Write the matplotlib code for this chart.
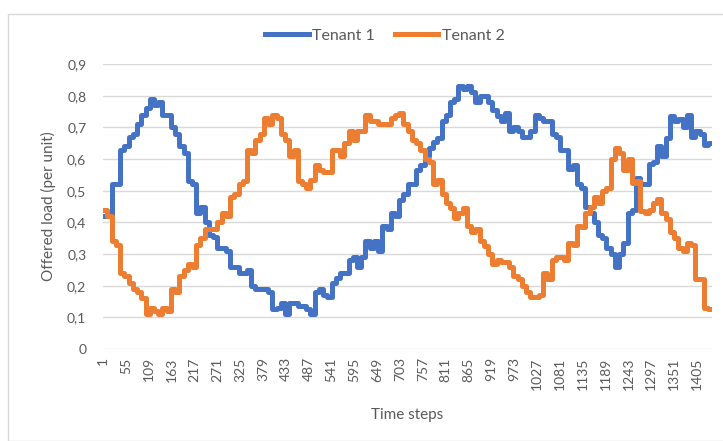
import numpy as np
import matplotlib.pyplot as plt
from matplotlib.patches import Rectangle

# Offered load per 10-step block (144 blocks = 1440 time steps)
tenant1 = [
    0.42, 0.42, 0.52, 0.52, 0.63, 0.64, 0.67, 0.68, 0.71, 0.74,
    0.76, 0.79, 0.77, 0.78, 0.74, 0.74, 0.70, 0.68, 0.64, 0.62,
    0.53, 0.52, 0.43, 0.45, 0.40, 0.36, 0.355, 0.32, 0.32, 0.31,
    0.26, 0.26, 0.24, 0.24, 0.25, 0.20, 0.19, 0.19, 0.19, 0.18,
    0.125, 0.13, 0.145, 0.11, 0.145, 0.145, 0.135, 0.135, 0.125, 0.11,
    0.18, 0.19, 0.17, 0.165, 0.21, 0.225, 0.24, 0.24, 0.28, 0.29,
    0.26, 0.29, 0.34, 0.32, 0.34, 0.31, 0.39, 0.38, 0.43, 0.42,
    0.47, 0.49, 0.52, 0.52, 0.565, 0.58, 0.61, 0.635, 0.655, 0.665,
    0.72, 0.74, 0.78, 0.79, 0.83, 0.82, 0.83, 0.81, 0.78, 0.80,
    0.80, 0.78, 0.755, 0.735, 0.72, 0.745, 0.69, 0.70, 0.69, 0.67,
    0.67, 0.69, 0.74, 0.73, 0.72, 0.72, 0.68, 0.67, 0.63, 0.63,
    0.57, 0.58, 0.52, 0.51, 0.45, 0.43, 0.40, 0.36, 0.35, 0.32,
    0.30, 0.26, 0.30, 0.335, 0.43, 0.44, 0.54, 0.52, 0.52, 0.585,
    0.59, 0.64, 0.61, 0.665, 0.735, 0.72, 0.725, 0.70, 0.74, 0.67,
    0.69, 0.68, 0.645, 0.65,
]
tenant2 = [
    0.44, 0.42, 0.34, 0.33, 0.24, 0.23, 0.21, 0.19, 0.18, 0.16,
    0.11, 0.13, 0.12, 0.11, 0.13, 0.12, 0.19, 0.18, 0.23, 0.25,
    0.27, 0.26, 0.33, 0.35, 0.38, 0.38, 0.38, 0.40, 0.43, 0.42,
    0.48, 0.49, 0.52, 0.53, 0.63, 0.62, 0.66, 0.68, 0.73, 0.71,
    0.74, 0.73, 0.68, 0.66, 0.61, 0.63, 0.53, 0.52, 0.51, 0.535,
    0.58, 0.565, 0.56, 0.56, 0.63, 0.63, 0.61, 0.65, 0.69, 0.66,
    0.69, 0.69, 0.74, 0.72, 0.72, 0.71, 0.71, 0.71, 0.73, 0.74,
    0.745, 0.71, 0.69, 0.66, 0.65, 0.63, 0.60, 0.59, 0.52, 0.535,
    0.49, 0.46, 0.445, 0.415, 0.43, 0.445, 0.39, 0.37, 0.38, 0.34,
    0.325, 0.30, 0.27, 0.28, 0.275, 0.275, 0.26, 0.23, 0.22, 0.20,
    0.18, 0.165, 0.165, 0.17, 0.24, 0.22, 0.28, 0.29, 0.29, 0.28,
    0.335, 0.33, 0.39, 0.385, 0.43, 0.45, 0.48, 0.46, 0.50, 0.51,
    0.60, 0.635, 0.62, 0.565, 0.60, 0.525, 0.53, 0.435, 0.43, 0.44,
    0.46, 0.475, 0.43, 0.41, 0.37, 0.35, 0.32, 0.31, 0.335, 0.33,
    0.22, 0.22, 0.13, 0.125,
]
n_steps = 1440
block = 10
tick_labels = [str(v) for v in range(1, n_steps, 54)]
y_ticks = [0, 0.1, 0.2, 0.3, 0.4, 0.5, 0.6, 0.7, 0.8, 0.9]

plt.rcParams['font.family'] = ['Lato', 'DejaVu Sans']
grey_text = '#595959'

fig = plt.figure(figsize=(7.23, 4.41), dpi=100)
ax = fig.add_axes([103 / 723, 1 - 349 / 441, 609 / 723, (349 - 64) / 441])

# outer chart frame
fig.patches.append(Rectangle((8 / 723, 0), 1.0, 1 - 14 / 441, transform=fig.transFigure,
                             fill=False, edgecolor='#d9d9d9', linewidth=1))

starts = np.arange(len(tenant1)) * block + 1
x = np.append(starts, n_steps + 1)
ax.step(x, np.append(tenant1, tenant1[-1]), where='post', color='#4472C4',
        linewidth=3.6, label='Tenant 1', solid_joinstyle='round')
ax.step(x, np.append(tenant2, tenant2[-1]), where='post', color='#ED7D31',
        linewidth=3.6, label='Tenant 2', solid_joinstyle='round')

ax.set_xlim(0.5, n_steps + 0.5)
ax.set_ylim(0, 0.9)
ax.set_yticks(y_ticks)
ax.set_yticklabels([f'{v:g}'.replace('.', ',') for v in y_ticks])
ax.set_xticks([int(t) for t in tick_labels])
ax.set_xticklabels(tick_labels, rotation=90)
ax.tick_params(length=0, labelsize=10, colors=grey_text)
ax.tick_params(axis='y', pad=12)
ax.tick_params(axis='x', pad=6)
ax.grid(axis='y', color='#d9d9d9', linewidth=1)
ax.set_axisbelow(True)
for s in ax.spines.values():
    s.set_visible(False)

ax.set_xlabel('Time steps', fontsize=11, color=grey_text, labelpad=13)
ax.set_ylabel('Offered load (per unit)', fontsize=11, color=grey_text, labelpad=8)

fig.legend(loc='center', bbox_to_anchor=(385 / 723, 1 - 36 / 441), ncol=2, frameon=False,
           fontsize=11.5, labelcolor=grey_text, handlelength=2.7, handletextpad=0.2,
           columnspacing=1.3)

fig.savefig('out.png', dpi=100)
